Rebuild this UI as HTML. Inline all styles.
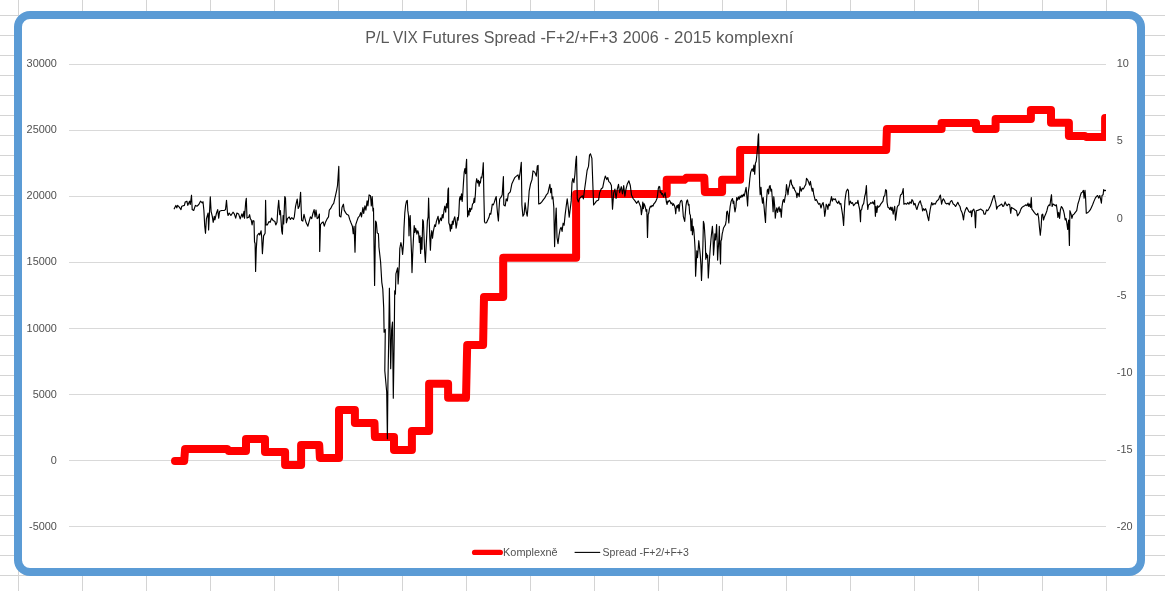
<!DOCTYPE html>
<html lang="cs">
<head>
<meta charset="utf-8">
<title>P/L VIX Futures Spread -F+2/+F+3 2006 - 2015 komplexní</title>
<style>
html,body{margin:0;padding:0;background:#fff;width:1165px;height:591px;overflow:hidden}
svg{display:block;will-change:transform}
text{font-family:"Liberation Sans",sans-serif}
</style>
</head>
<body>
<svg width="1165" height="591" viewBox="0 0 1165 591">
<rect width="1165" height="591" fill="#fff"/>
<path d="M18.5 0V591M82.5 0V591M146.5 0V591M210.5 0V591M274.5 0V591M338.5 0V591M402.5 0V591M466.5 0V591M530.5 0V591M594.5 0V591M658.5 0V591M722.5 0V591M786.5 0V591M850.5 0V591M914.5 0V591M978.5 0V591M1042.5 0V591M1106.5 0V591M0 15.5H1165M0 35.5H1165M0 55.5H1165M0 75.5H1165M0 95.5H1165M0 115.5H1165M0 135.5H1165M0 155.5H1165M0 175.5H1165M0 195.5H1165M0 215.5H1165M0 235.5H1165M0 255.5H1165M0 275.5H1165M0 295.5H1165M0 315.5H1165M0 335.5H1165M0 355.5H1165M0 375.5H1165M0 395.5H1165M0 415.5H1165M0 435.5H1165M0 455.5H1165M0 475.5H1165M0 495.5H1165M0 515.5H1165M0 535.5H1165M0 555.5H1165M0 575.5H1165" stroke="#d4d4d4" stroke-width="1" fill="none" shape-rendering="crispEdges"/>
<rect x="18" y="15" width="1123" height="557" rx="12" ry="12" fill="#fff" stroke="#5b9bd5" stroke-width="8"/>
<path d="M68.5 64.5H1106M68.5 130.5H1106M68.5 196.5H1106M68.5 262.5H1106M68.5 328.5H1106M68.5 394.5H1106M68.5 460.5H1106M68.5 526.5H1106" stroke="#d9d9d9" stroke-width="1" fill="none" shape-rendering="crispEdges"/>
<defs><clipPath id="pc"><rect x="68" y="20" width="1038" height="520"/></clipPath></defs>
<g clip-path="url(#pc)"><polyline points="175.0,460.9 184.2,460.9 185.1,448.9 227.3,448.9 228.5,450.9 246.0,450.9 246.0,439.0 265.0,439.0 265.0,451.9 285.1,451.9 285.1,464.9 301.1,464.9 301.1,444.9 319.2,444.9 319.9,457.9 339.0,457.9 339.0,409.9 354.9,409.9 354.9,423.0 374.5,423.0 374.9,436.9 394.0,436.9 394.0,449.9 411.9,449.9 411.9,431.1 429.1,431.1 429.1,383.8 448.1,383.8 448.1,397.8 466.0,397.8 467.2,344.9 483.1,344.9 484.0,296.9 503.2,296.9 503.2,257.8 576.1,257.8 576.1,193.9 666.7,193.9 666.7,179.8 684.3,179.8 686.3,177.8 704.3,177.8 704.9,192.0 722.1,192.0 722.1,179.8 740.1,179.8 740.1,149.9 886.2,149.9 886.9,129.0 941.6,129.0 941.6,122.9 976.0,122.9 976.0,129.0 995.6,129.0 995.6,119.0 1030.9,119.0 1030.9,110.0 1051.0,110.0 1051.0,122.8 1068.9,122.8 1068.9,136.0 1084.9,136.0 1085.9,136.9 1105.1,136.9 1105.1,118.0" fill="none" stroke="#ff0000" stroke-width="8" stroke-linecap="round" stroke-linejoin="round"/>
<polyline points="174.2,208.8 175.9,205.4 176.8,207.9 177.6,205.4 179.3,207.1 181.0,209.6 181.8,206.2 184.4,205.4 185.2,202.0 186.9,201.2 187.8,205.4 189.5,201.2 190.3,204.5 191.5,195.2 192.2,209.6 193.7,210.5 195.4,205.4 197.1,206.2 198.8,204.5 200.5,201.2 202.2,202.9 203.0,201.7 203.9,210.5 204.7,225.7 205.5,233.3 206.4,218.9 208.1,213.0 208.6,229.9 210.3,196.9 211.1,211.3 212.3,216.4 213.2,222.3 214.3,216.4 214.9,219.8 216.5,213.0 217.7,209.6 218.7,218.1 219.6,211.3 221.6,210.5 224.2,210.5 225.5,209.6 226.5,200.3 227.5,213.0 228.1,215.5 229.2,213.0 230.9,215.5 233.0,212.2 234.3,213.9 235.7,218.1 236.9,213.0 238.6,213.9 240.2,218.9 241.9,213.9 242.8,217.2 244.0,211.3 244.5,218.1 245.7,202.0 246.3,198.3 247.0,218.1 248.7,217.2 249.6,214.7 250.4,218.9 251.2,219.8 252.1,224.9 252.9,220.6 254.0,221.0 254.5,241.8 255.1,243.5 255.6,271.4 256.3,248.6 257.2,235.5 258.9,233.3 259.7,235.0 261.1,230.8 261.7,237.5 262.4,253.6 263.6,235.9 265.1,233.3 265.6,200.3 266.1,224.9 267.3,224.9 269.0,221.5 270.2,222.3 271.6,218.1 273.2,220.6 274.9,221.5 275.8,224.9 277.0,222.3 277.8,209.6 278.7,200.3 279.7,214.7 280.4,210.5 280.9,218.1 281.7,230.8 282.4,234.2 283.1,215.5 283.7,224.0 284.8,196.6 285.5,198.2 286.4,222.8 287.5,218.6 289.2,216.9 290.4,219.4 291.8,217.7 293.5,219.4 294.3,216.9 295.5,206.7 297.2,199.1 298.2,208.4 299.4,205.9 300.6,192.3 301.6,220.2 302.8,221.1 304.0,214.3 305.0,218.6 306.2,222.8 307.9,226.2 309.0,221.9 310.4,216.9 311.7,218.6 312.9,213.5 314.1,209.6 315.1,216.9 316.0,210.1 317.2,218.6 318.3,217.7 319.4,214.0 319.7,251.5 320.5,224.5 321.9,222.8 323.1,221.9 324.3,226.2 325.6,221.9 327.3,218.6 328.5,216.9 329.3,210.1 330.7,208.4 332.4,205.0 333.7,203.3 334.9,198.2 336.6,190.6 337.5,185.5 338.3,173.7 338.8,166.4 339.5,216.0 340.9,216.9 342.0,207.5 343.4,204.2 344.2,210.1 345.6,212.6 346.8,214.3 348.5,215.2 349.7,219.4 351.0,222.8 352.4,226.2 353.2,233.8 354.1,226.2 355.0,252.2 355.8,224.5 356.9,221.1 358.1,217.7 359.5,216.0 360.7,212.6 361.5,216.9 362.9,207.5 363.7,213.5 364.9,205.9 365.9,210.1 367.1,200.8 367.9,205.9 369.1,194.9 370.5,195.7 371.3,205.9 372.2,196.5 373.0,210.9 373.5,208.4 374.6,285.4 375.6,221.1 376.4,222.8 377.2,232.9 378.4,233.8 378.9,244.8 378.9,246.8 380.6,262.0 381.8,282.3 382.8,289.1 383.7,307.7 384.1,332.2 385.3,329.5 384.8,370.8 386.7,392.0 387.4,438.8 387.9,385.0 388.7,340.3 389.4,288.2 390.7,368.7 391.6,330.0 392.5,322.0 393.3,398.2 394.2,340.0 394.7,290.8 395.4,294.2 395.9,273.9 397.6,267.9 398.1,284.0 399.3,265.4 399.8,248.5 400.9,242.5 401.8,246.8 402.6,254.4 403.5,243.4 404.0,228.0 404.8,213.0 405.6,205.4 406.5,201.1 407.3,200.3 407.8,210.4 408.5,215.5 409.0,235.8 409.5,220.6 410.2,215.5 410.8,235.8 411.5,252.7 412.0,272.6 412.7,254.4 413.5,237.5 414.2,225.6 414.9,232.4 415.6,228.2 416.3,230.7 416.9,234.1 417.8,230.7 418.6,233.2 419.3,242.5 420.0,235.8 420.6,253.5 421.3,237.5 422.0,249.3 422.7,219.7 423.4,221.4 424.0,235.8 424.7,252.7 425.4,262.5 426.1,247.6 426.7,235.8 427.4,220.6 428.1,217.2 428.6,198.1 429.3,222.3 429.8,237.5 430.4,250.1 431.1,235.8 431.8,230.7 432.5,238.3 433.2,232.4 433.8,229.0 434.7,224.8 435.5,226.5 436.4,221.4 437.2,218.9 438.1,216.3 438.9,223.9 439.7,220.6 440.6,218.0 441.4,220.6 442.3,214.6 443.1,218.0 444.0,210.4 444.8,206.2 445.7,212.1 446.5,203.7 447.3,207.9 448.0,190.1 448.4,188.1 448.5,188.0 448.8,222.7 449.7,225.2 450.4,231.1 451.0,224.4 451.7,228.6 452.4,221.0 453.1,224.4 453.9,219.3 454.8,216.8 455.6,222.7 456.1,228.1 456.8,224.4 457.5,217.6 458.1,220.1 458.8,214.2 459.5,199.0 460.2,196.5 460.8,199.9 461.5,193.9 462.2,201.5 462.9,192.3 463.5,182.1 464.2,172.0 464.9,168.6 465.6,173.7 466.3,162.7 466.6,159.3 467.1,192.3 467.6,216.8 468.3,210.8 469.0,215.1 469.6,208.3 470.3,211.7 471.0,208.3 471.7,209.2 472.5,204.1 473.4,203.2 474.2,198.2 474.7,202.4 475.4,193.9 475.9,183.8 476.7,178.7 477.6,183.0 478.4,180.4 479.1,186.3 479.8,181.3 480.4,183.0 481.1,177.0 481.8,177.9 482.6,172.0 483.3,162.7 483.8,192.3 484.5,221.8 485.2,223.0 486.5,222.7 487.7,220.1 488.9,217.6 489.9,213.4 490.8,214.2 491.6,209.2 492.3,204.1 493.3,204.9 494.3,202.4 495.3,199.0 496.2,196.5 497.0,207.5 497.7,215.1 498.4,221.0 499.0,209.2 499.7,199.0 501.2,196.9 502.2,194.8 503.4,176.5 503.8,205.0 505.2,206.0 506.2,198.9 507.3,200.9 508.3,193.8 510.3,191.8 511.9,183.7 513.4,180.6 514.8,177.6 516.4,176.1 518.0,174.9 519.0,179.6 520.1,172.5 521.3,162.3 521.9,205.0 522.9,216.1 524.1,214.1 525.1,202.9 526.1,211.1 527.2,216.1 528.2,205.0 529.2,190.8 530.6,183.7 532.0,179.6 533.0,170.9 534.7,172.1 536.3,176.1 537.3,166.0 538.1,165.4 538.7,204.0 540.4,203.4 541.8,201.9 543.2,199.9 544.8,197.9 546.4,194.8 547.9,193.2 548.9,188.7 549.9,184.3 550.7,192.8 551.5,188.3 552.1,198.9 552.9,196.9 553.8,207.0 554.6,246.6 555.4,221.2 556.2,208.0 557.0,237.5 558.0,243.6 559.0,235.4 560.1,229.3 561.1,227.3 562.1,231.4 563.1,223.2 564.1,225.3 565.1,215.1 566.1,207.0 567.2,198.9 568.2,207.0 569.2,217.2 570.2,209.0 571.2,200.9 572.0,182.6 572.8,178.6 573.9,182.6 574.9,174.5 575.9,160.3 576.5,156.2 577.3,198.9 578.3,201.9 579.3,198.9 581.0,196.9 582.4,195.8 583.4,198.9 584.4,190.8 585.8,180.6 587.1,170.5 588.5,166.4 589.5,155.2 590.5,153.8 591.9,158.3 592.7,180.6 593.6,205.0 595.2,202.9 596.6,200.9 598.6,199.9 599.6,192.8 601.3,188.7 602.7,187.7 604.1,180.6 605.3,176.1 606.8,179.6 607.8,177.6 608.8,181.6 610.0,182.6 611.4,185.5 612.5,209.2 613.7,192.6 614.9,189.1 616.1,198.5 617.3,189.1 618.5,184.3 619.6,192.6 621.3,186.7 622.5,193.8 623.7,185.5 624.9,196.2 626.0,189.1 627.2,184.3 628.9,180.8 630.3,185.5 631.5,195.0 633.1,198.5 635.0,200.9 636.7,203.3 638.3,200.9 640.7,207.0 641.4,214.6 642.1,210.4 642.8,202.0 643.4,208.7 644.1,203.7 644.8,205.4 645.5,207.9 646.1,211.3 646.8,209.6 647.5,237.5 648.2,214.6 648.8,213.0 649.5,208.7 650.4,206.2 651.2,207.0 652.1,205.4 652.9,206.2 653.9,203.7 654.9,202.8 655.9,201.1 657.0,198.6 657.6,195.2 658.3,188.5 659.0,186.4 659.7,186.8 660.3,192.7 661.0,191.8 661.7,194.4 662.5,193.5 663.4,196.9 664.2,195.2 665.1,192.7 665.7,196.9 666.4,202.0 667.1,204.5 667.8,201.1 668.4,202.0 669.3,200.3 670.1,201.1 671.0,203.7 671.8,202.8 672.7,205.4 673.5,203.7 674.4,205.4 675.2,208.7 675.7,213.8 676.4,207.0 677.1,205.4 677.7,207.9 678.4,204.5 679.1,211.3 679.8,203.7 680.6,201.1 681.3,200.3 682.0,201.1 682.6,207.0 683.3,216.3 684.0,218.9 684.7,221.4 685.3,213.8 686.0,205.4 686.7,201.1 687.5,199.9 688.4,205.2 689.0,204.4 689.7,213.7 690.4,215.4 691.1,230.6 691.6,223.0 692.1,218.7 692.4,234.8 693.1,226.3 693.8,229.7 694.5,239.0 695.1,249.2 695.6,276.2 696.3,262.7 696.8,250.8 697.5,257.6 698.2,249.2 698.8,240.7 699.5,247.5 700.2,254.2 700.9,264.4 701.5,280.4 702.2,264.4 702.9,245.8 703.4,221.3 704.1,223.8 704.6,230.6 705.3,242.4 705.8,259.3 706.4,253.4 707.1,257.6 707.6,255.1 708.3,277.9 709.0,266.1 709.7,255.9 710.3,247.5 711.0,239.0 711.7,232.3 712.4,226.3 713.0,235.6 713.5,255.1 714.2,245.8 714.9,233.9 715.6,239.9 716.1,232.3 716.6,224.6 717.1,239.0 717.6,260.1 718.1,250.8 718.8,240.7 719.3,226.3 719.8,245.8 720.5,264.0 721.0,240.7 721.5,239.9 722.2,233.9 722.8,231.4 723.5,228.0 724.5,226.3 725.5,224.6 726.2,220.4 726.7,212.0 727.4,211.1 728.1,215.4 728.8,223.0 729.4,213.7 730.1,206.9 731.0,201.8 731.6,200.1 732.5,198.5 733.2,203.5 733.8,201.0 734.5,208.6 735.0,212.0 735.9,206.9 736.7,197.6 737.5,200.1 738.4,196.8 739.2,199.3 740.1,195.9 740.9,197.6 741.8,195.1 742.6,196.8 743.5,194.2 744.3,195.9 746.1,187.4 746.8,195.8 747.6,206.0 748.3,192.0 749.1,186.4 749.8,179.0 750.6,172.5 751.3,170.6 752.2,168.8 753.2,171.5 753.9,165.0 754.7,174.3 755.4,163.2 756.2,161.3 756.9,154.8 757.6,147.3 758.2,136.2 758.6,133.9 759.1,162.2 759.7,186.4 760.2,194.8 761.0,187.4 761.7,196.7 762.5,203.2 763.2,197.6 764.0,206.0 764.7,214.4 765.5,222.4 766.0,208.8 766.6,199.5 767.3,190.2 768.1,189.2 768.6,193.9 769.4,186.4 770.1,185.5 770.9,191.1 771.6,189.2 772.3,198.5 773.1,211.6 773.8,196.7 774.6,205.1 775.3,218.1 776.1,210.6 776.8,207.9 777.6,212.5 778.3,208.8 779.1,206.9 779.8,211.6 780.5,208.8 781.3,217.2 782.0,206.9 782.8,201.3 783.5,199.5 784.3,202.3 785.0,197.6 785.8,193.9 786.5,184.6 787.2,189.2 788.0,194.8 788.7,188.3 789.5,185.5 790.2,180.9 791.0,179.9 791.7,184.6 792.5,185.5 793.2,188.3 793.9,187.4 794.7,190.2 795.4,191.1 796.2,193.0 796.9,197.6 797.7,193.0 798.4,193.9 799.2,196.7 800.0,186.6 801.2,191.2 802.3,188.2 803.4,188.9 804.6,186.6 805.8,184.4 806.5,178.3 807.6,179.8 808.8,182.8 809.6,185.1 810.4,181.3 811.4,187.4 812.2,191.2 812.9,188.2 813.7,194.3 814.5,197.3 815.2,200.4 816.4,199.6 817.5,201.9 818.6,204.2 819.8,203.4 821.0,208.0 822.1,204.2 823.1,202.6 824.1,208.7 824.7,216.3 825.6,210.3 826.2,204.2 827.1,205.7 827.9,209.5 828.6,204.2 829.7,205.7 830.5,201.1 831.5,196.5 832.3,201.1 833.2,198.8 834.3,199.6 835.3,198.8 836.5,201.9 837.8,203.4 838.8,201.1 839.9,204.2 840.8,203.4 841.9,210.3 842.6,214.8 843.6,225.5 844.2,213.3 844.9,201.1 845.7,195.0 846.4,191.2 847.5,189.2 848.4,190.5 849.2,204.9 850.3,201.1 851.5,203.4 852.5,202.6 853.6,205.7 854.8,204.2 856.0,202.6 857.1,203.4 857.9,200.4 858.8,205.7 859.7,209.5 860.5,221.7 860.9,210.3 861.7,209.5 862.4,205.7 863.7,203.4 864.7,196.5 865.5,193.5 866.4,185.6 867.0,199.6 867.8,209.5 868.5,204.9 869.7,204.2 870.8,202.6 871.9,203.4 872.8,201.9 873.9,204.2 874.6,200.4 875.4,216.3 876.1,206.4 876.9,212.5 877.7,205.7 878.4,207.2 879.5,206.4 880.7,204.2 881.9,202.6 883.0,201.1 883.8,196.5 884.8,195.8 885.6,189.7 886.5,190.5 887.1,202.6 887.9,207.2 889.1,208.0 889.8,209.5 890.6,207.2 891.4,210.3 892.1,207.2 893.2,214.1 894.1,208.7 894.7,206.4 895.5,220.1 896.2,214.8 897.2,207.2 897.9,205.7 899.0,204.9 899.7,199.6 900.5,195.0 901.7,194.3 902.5,192.0 903.2,188.5 903.9,204.2 905.1,203.4 906.6,204.2 907.8,202.6 908.9,204.2 909.9,201.9 911.2,203.4 911.9,199.6 913.0,201.1 913.9,204.9 915.0,203.4 916.0,207.2 916.9,209.5 918.0,205.7 919.1,202.6 920.3,200.8 921.1,204.2 921.8,205.7 922.6,211.0 923.6,208.7 924.6,210.3 925.6,208.7 926.7,211.8 927.6,216.3 928.7,220.6 929.4,214.8 930.2,209.5 931.0,205.7 931.7,202.6 932.8,204.9 934.0,203.4 935.2,204.2 936.3,201.9 937.4,200.4 938.6,199.6 939.6,196.5 940.4,195.0 941.0,199.6 941.6,204.2 942.5,200.4 943.4,198.8 944.7,201.1 945.4,203.1 946.8,204.0 948.1,203.1 949.3,204.8 950.5,201.4 951.8,200.6 953.2,204.0 954.4,204.8 955.6,206.5 956.9,204.0 957.8,202.3 958.9,204.8 960.0,206.5 960.8,209.9 962.0,212.4 962.8,215.8 963.5,220.0 964.2,214.1 965.4,209.9 966.6,207.4 967.6,209.1 968.8,211.6 970.1,212.4 971.0,210.7 971.6,216.7 972.5,210.7 973.8,209.1 974.7,212.4 975.5,227.7 976.2,210.7 977.6,210.4 978.9,209.9 980.6,209.1 981.9,209.9 983.1,210.7 984.0,214.1 985.3,214.1 986.5,209.9 987.7,210.7 989.1,208.2 990.4,205.7 991.3,203.1 992.4,199.7 993.5,196.4 994.3,195.5 995.1,199.7 995.8,202.3 996.7,209.1 997.8,206.5 999.2,205.7 1000.6,204.8 1001.7,204.0 1002.9,206.5 1003.9,205.7 1005.1,201.9 1006.3,204.8 1007.3,205.7 1008.5,204.0 1009.7,204.8 1010.7,213.3 1011.5,207.4 1012.7,208.2 1014.1,209.1 1015.3,209.9 1016.5,210.7 1017.5,215.8 1018.7,214.1 1019.8,212.4 1020.9,209.1 1022.0,207.4 1023.2,206.5 1024.6,205.7 1025.9,204.8 1027.1,205.7 1028.0,203.1 1028.8,206.5 1029.6,204.0 1030.5,207.4 1031.3,197.6 1031.8,209.1 1033.0,210.7 1034.2,212.4 1035.6,214.1 1036.8,215.0 1037.8,213.3 1038.6,217.5 1039.5,227.7 1040.3,235.3 1041.2,226.0 1041.8,215.0 1042.7,214.1 1043.5,220.0 1044.5,216.7 1045.7,214.1 1046.9,210.7 1047.9,206.5 1049.1,204.8 1049.9,205.7 1050.8,198.9 1051.5,194.7 1052.1,206.5 1053.0,204.0 1054.2,204.8 1055.4,205.7 1056.4,204.8 1057.2,210.7 1057.9,217.5 1058.7,212.4 1059.6,218.4 1060.4,209.9 1061.4,206.5 1062.6,208.2 1063.5,210.7 1064.3,214.1 1065.2,220.0 1066.0,218.4 1066.9,223.4 1067.7,229.4 1068.6,220.0 1069.4,245.4 1069.9,210.7 1071.1,214.1 1071.9,218.4 1072.8,215.0 1074.0,214.1 1075.3,212.4 1076.7,210.7 1077.9,204.0 1079.0,200.6 1080.1,196.4 1081.2,193.0 1082.4,192.1 1083.4,190.4 1084.1,198.1 1085.0,190.4 1085.6,198.1 1086.3,213.3 1087.5,212.8 1088.8,211.6 1090.2,209.9 1091.4,207.4 1092.6,204.8 1093.9,201.4 1095.3,198.1 1096.5,196.4 1097.6,195.5 1098.7,198.1 1099.8,195.5 1100.7,199.7 1101.4,203.1 1102.0,195.5 1103.1,194.7 1103.7,189.6 1104.9,190.8 1105.8,190.4" fill="none" stroke="#000" stroke-width="1.15" stroke-linejoin="round" stroke-linecap="round"/></g>
<line x1="474.6" y1="552.4" x2="500.3" y2="552.4" stroke="#ff0000" stroke-width="5.3" stroke-linecap="round"/>
<line x1="574.6" y1="552.4" x2="600.2" y2="552.4" stroke="#000" stroke-width="1.1"/>
<g id="labels"><text y="43" font-family="'Liberation Sans', sans-serif" font-size="16.7" fill="#595959"><tspan x="365.3" textLength="23.6" lengthAdjust="spacingAndGlyphs">P/L</tspan> <tspan x="392.9" textLength="24.8" lengthAdjust="spacingAndGlyphs">VIX</tspan> <tspan x="422.3" textLength="56.9" lengthAdjust="spacingAndGlyphs">Futures</tspan> <tspan x="483.8" textLength="51.9" lengthAdjust="spacingAndGlyphs">Spread</tspan> <tspan x="540.4" textLength="77.3" lengthAdjust="spacingAndGlyphs">-F+2/+F+3</tspan> <tspan x="622.8" textLength="35.8" lengthAdjust="spacingAndGlyphs">2006</tspan> <tspan x="664.3" textLength="4.9" lengthAdjust="spacingAndGlyphs">-</tspan> <tspan x="674.1" textLength="37.3" lengthAdjust="spacingAndGlyphs">2015</tspan> <tspan x="716.0" textLength="77.4" lengthAdjust="spacingAndGlyphs">komplexní</tspan></text>
<text x="56.9" y="67.0" font-family="'Liberation Sans', sans-serif" font-size="10.9" fill="#505050" text-anchor="end">30000</text>
<text x="56.9" y="133.0" font-family="'Liberation Sans', sans-serif" font-size="10.9" fill="#505050" text-anchor="end">25000</text>
<text x="56.9" y="199.0" font-family="'Liberation Sans', sans-serif" font-size="10.9" fill="#505050" text-anchor="end">20000</text>
<text x="56.9" y="265.0" font-family="'Liberation Sans', sans-serif" font-size="10.9" fill="#505050" text-anchor="end">15000</text>
<text x="56.9" y="332.0" font-family="'Liberation Sans', sans-serif" font-size="10.9" fill="#505050" text-anchor="end">10000</text>
<text x="56.9" y="398.0" font-family="'Liberation Sans', sans-serif" font-size="10.9" fill="#505050" text-anchor="end">5000</text>
<text x="56.9" y="464.0" font-family="'Liberation Sans', sans-serif" font-size="10.9" fill="#505050" text-anchor="end">0</text>
<text x="56.9" y="530.0" font-family="'Liberation Sans', sans-serif" font-size="10.9" fill="#505050" text-anchor="end">-5000</text>
<text x="1116.8" y="67.0" font-family="'Liberation Sans', sans-serif" font-size="10.9" fill="#505050">10</text>
<text x="1116.8" y="144.0" font-family="'Liberation Sans', sans-serif" font-size="10.9" fill="#505050">5</text>
<text x="1116.8" y="222.0" font-family="'Liberation Sans', sans-serif" font-size="10.9" fill="#505050">0</text>
<text x="1116.8" y="299.0" font-family="'Liberation Sans', sans-serif" font-size="10.9" fill="#505050">-5</text>
<text x="1116.8" y="376.0" font-family="'Liberation Sans', sans-serif" font-size="10.9" fill="#505050">-10</text>
<text x="1116.8" y="453.0" font-family="'Liberation Sans', sans-serif" font-size="10.9" fill="#505050">-15</text>
<text x="1116.8" y="530.0" font-family="'Liberation Sans', sans-serif" font-size="10.9" fill="#505050">-20</text>
<text x="503.1" y="556.2" font-family="'Liberation Sans', sans-serif" font-size="10.7" fill="#505050" textLength="54.5" lengthAdjust="spacingAndGlyphs">Komplexně</text>
<text x="602.6" y="556.2" font-family="'Liberation Sans', sans-serif" font-size="10.7" fill="#505050" textLength="86.2" lengthAdjust="spacingAndGlyphs">Spread -F+2/+F+3</text></g>
</svg>
</body>
</html>
